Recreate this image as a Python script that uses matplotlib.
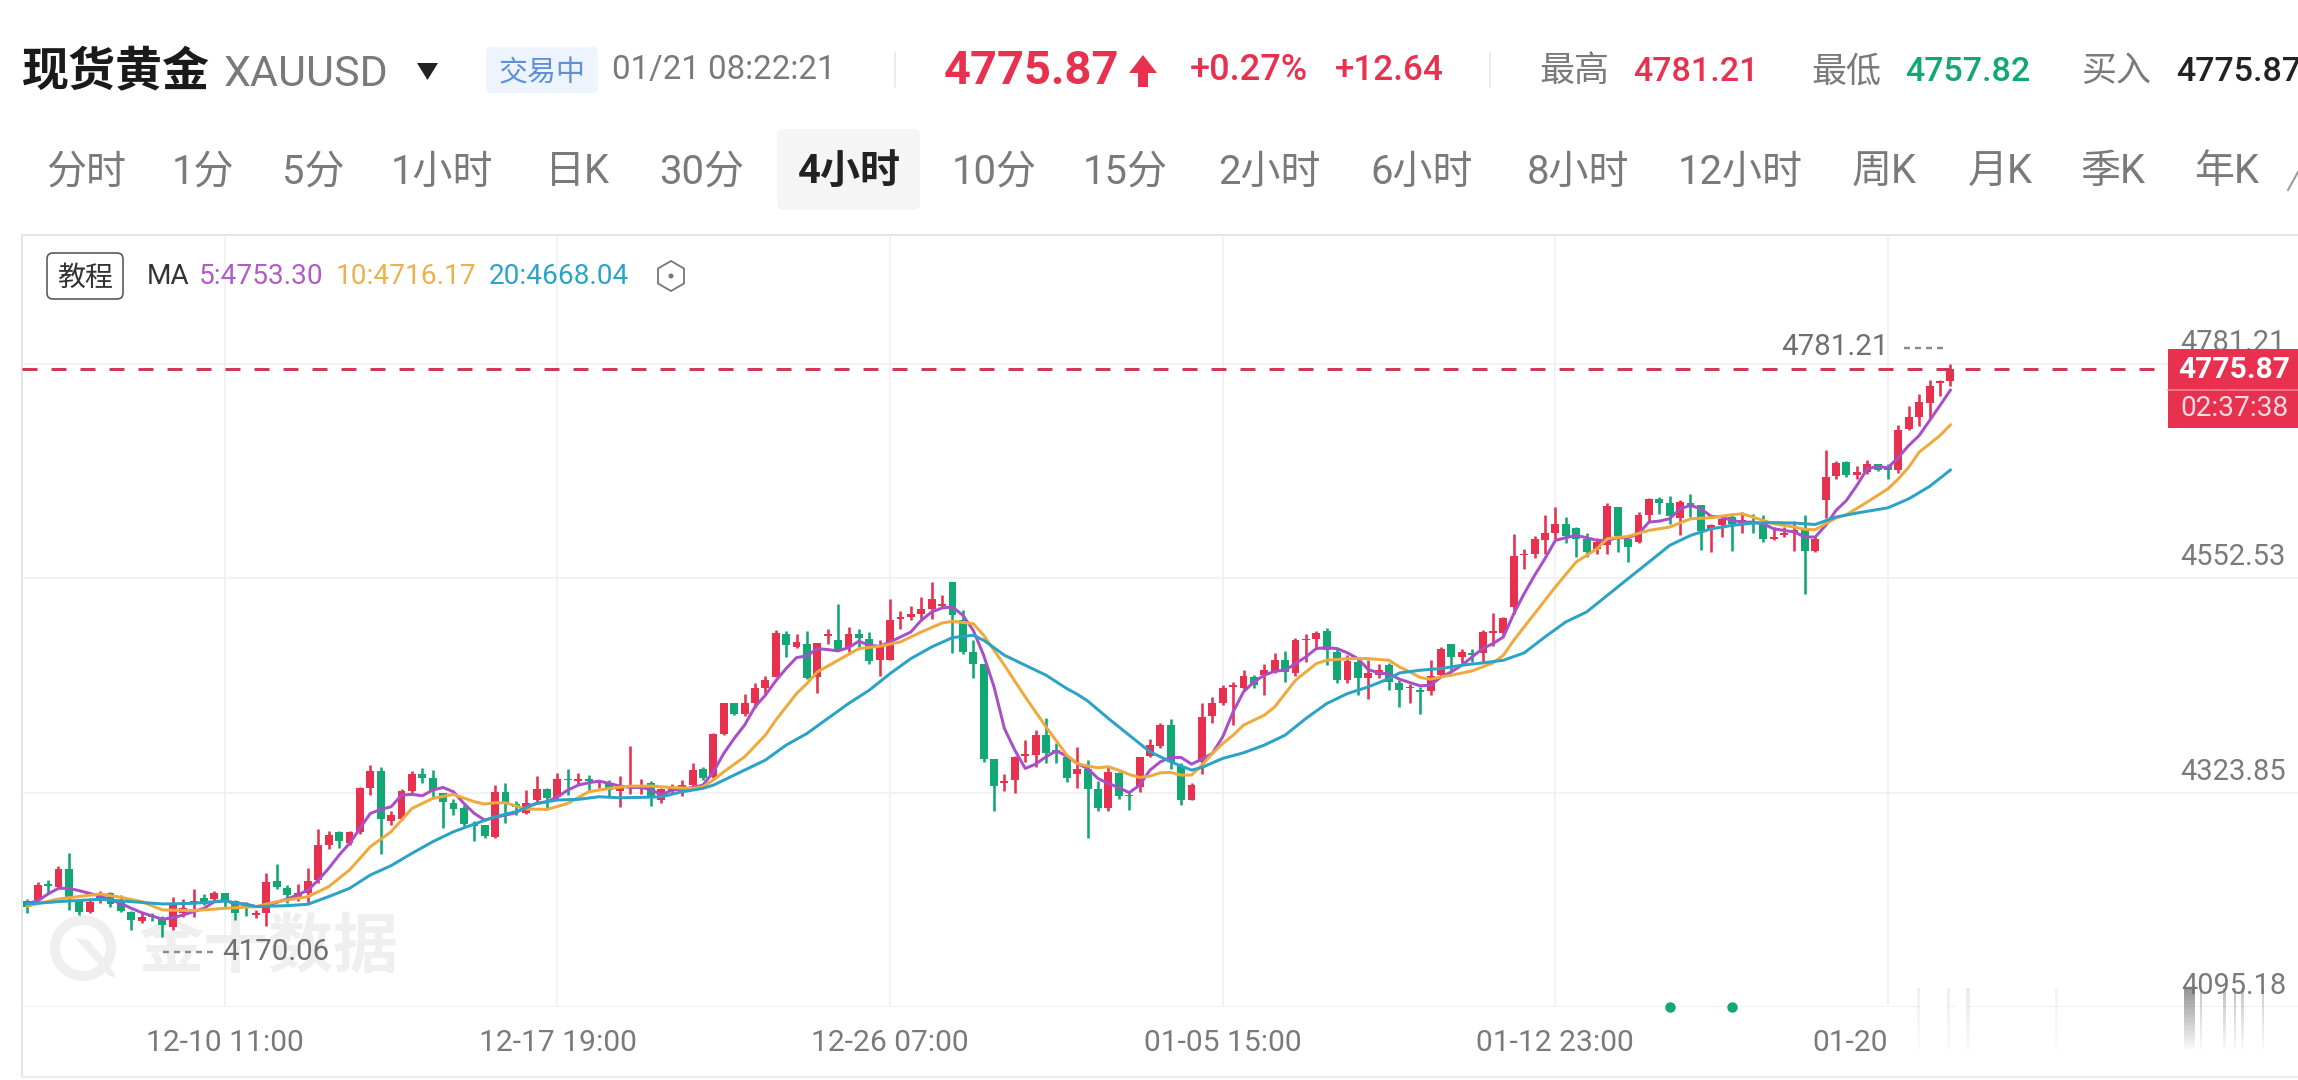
import numpy as np
import matplotlib
matplotlib.use("Agg")
import matplotlib.pyplot as plt
from matplotlib.patches import Rectangle, FancyBboxPatch, Polygon, RegularPolygon, Circle, Wedge

# ---------- data ----------
candle_colour = ("GRGRGGRRGG" "GRGGRRRGRG" "GGRRGGRRRR" "GRRRGRRRGG" "GGGGGRGGRR" "GRGRGRGRRR"
                 "GRRRRGRRGR" "RRRGRGRRGR" "GGRRRRRRRG" "GGGGRRRRGG" "GRGGRGGRRR" "GGRRRRRRGR"
                 "RGRRRGGRGR" "RGGRGRRGRG" "RRRRRRRRGG" "GRRGGRRGGR" "GGRRGRGGRR" "RGRRRGRRGG" "RRRRRR")
high = [4210,4229,4231,4246,4259,4209,4211,4219,4218,4215,
        4198,4195,4195,4192,4213,4210,4221,4216,4219,4217,
        4209,4207,4199,4238,4248,4225,4226,4244,4285,4283,
        4283,4283,4330,4353,4351,4304,4328,4347,4350,4348,
        4324,4317,4311,4294,4289,4332,4334,4315,4327,4342,
        4329,4345,4349,4345,4343,4337,4337,4342,4374,4338,
        4336,4329,4333,4337,4356,4351,4388,4419,4420,4429,
        4441,4448,4497,4496,4493,4496,4484,4499,4525,4501,
        4499,4495,4487,4531,4518,4523,4533,4549,4535,4549,
        4519,4487,4461,4360,4344,4363,4380,4391,4404,4377,
        4364,4373,4359,4336,4352,4346,4323,4362,4381,4398,
        4402,4356,4334,4420,4426,4439,4442,4455,4449,4461,
        4473,4475,4489,4493,4496,4500,4478,4471,4466,4465,
        4461,4462,4444,4440,4437,4465,4479,4483,4477,4477,
        4497,4516,4511,4600,4584,4598,4620,4629,4618,4607,
        4601,4596,4633,4629,4595,4623,4638,4639,4640,4636,
        4642,4631,4611,4620,4621,4623,4621,4620,4607,4607,
        4614,4620,4597,4689,4678,4678,4672,4679,4675,4675,
        4716,4736,4749,4764,4764,4781.21]
body_top = [4208,4225,4226,4242,4242,4208,4207,4215,4217,4208,
            4197,4191,4192,4190,4204,4201,4208,4211,4217,4217,
            4208,4204,4195,4229,4230,4222,4217,4230,4268,4279,
            4282,4282,4329,4347,4347,4300,4326,4344,4344,4339,
            4323,4313,4308,4290,4289,4325,4325,4312,4313,4328,
            4328,4338,4338,4338,4338,4336,4333,4331,4332,4332,
            4334,4328,4329,4332,4348,4349,4386,4419,4419,4419,
            4435,4444,4494,4493,4485,4483,4484,4493,4487,4493,
            4493,4488,4479,4508,4511,4515,4520,4530,4525,4549,
            4508,4474,4461,4360,4336,4362,4365,4385,4385,4369,
            4362,4349,4349,4328,4346,4345,4321,4362,4375,4396,
            4396,4352,4332,4405,4420,4436,4439,4448,4447,4455,
            4465,4465,4487,4488,4494,4496,4474,4464,4463,4451,
            4455,4460,4441,4437,4433,4448,4477,4482,4474,4473,
            4495,4496,4510,4576,4579,4594,4601,4610,4610,4606,
            4594,4591,4630,4629,4594,4620,4637,4637,4633,4634,
            4633,4631,4609,4616,4618,4615,4613,4612,4597,4601,
            4604,4604,4594,4661,4676,4677,4666,4675,4675,4672,
            4711,4725,4741,4758,4763,4775.87]
body_bot = [4202,4209,4224,4223,4213,4197,4197,4210,4205,4198,
            4188,4187,4191,4183,4181,4195,4205,4205,4210,4208,
            4195,4201,4193,4195,4223,4215,4210,4217,4231,4268,
            4272,4270,4282,4329,4296,4294,4296,4326,4339,4327,
            4314,4306,4290,4288,4278,4277,4312,4309,4302,4316,
            4318,4319,4337,4336,4336,4334,4327,4326,4329,4329,
            4318,4316,4327,4329,4332,4339,4341,4386,4408,4408,
            4419,4435,4447,4481,4479,4446,4447,4491,4476,4479,
            4489,4464,4465,4465,4509,4511,4514,4520,4523,4513,
            4474,4461,4360,4331,4334,4337,4363,4364,4366,4366,
            4339,4344,4328,4307,4307,4320,4320,4330,4363,4374,
            4357,4316,4316,4357,4406,4420,4437,4435,4439,4449,
            4454,4453,4452,4487,4488,4476,4444,4444,4446,4446,
            4449,4442,4433,4435,4431,4432,4449,4469,4469,4471,
            4473,4494,4494,4522,4577,4578,4593,4601,4598,4594,
            4581,4584,4588,4598,4586,4591,4620,4633,4619,4617,
            4629,4603,4605,4609,4611,4611,4611,4594,4595,4599,
            4602,4582,4582,4636,4662,4663,4663,4666,4668,4668,
            4668,4712,4725,4740,4761,4763]
low = [4196,4208,4216,4221,4199,4193,4195,4206,4202,4197,
       4177,4185,4187,4170.06,4177,4191,4191,4204,4209,4202,
       4188,4192,4190,4182,4221,4206,4208,4206,4227,4264,
       4265,4268,4280,4321,4258,4289,4295,4324,4334,4318,
       4286,4300,4288,4272,4276,4275,4292,4300,4301,4314,
       4307,4317,4321,4333,4327,4329,4320,4309,4322,4322,
       4310,4313,4323,4320,4330,4337,4339,4385,4407,4406,
       4414,4429,4447,4469,4478,4445,4430,4483,4475,4474,
       4479,4461,4448,4465,4498,4508,4507,4509,4522,4473,
       4472,4446,4357,4304,4326,4324,4357,4351,4356,4355,
       4335,4329,4275,4304,4304,4317,4305,4325,4362,4372,
       4349,4311,4316,4344,4398,4417,4396,4433,4435,4428,
       4452,4442,4448,4463,4478,4460,4441,4441,4428,4424,
       4446,4433,4415,4420,4408,4428,4447,4453,4462,4463,
       4463,4480,4492,4514,4563,4574,4578,4594,4590,4575,
       4575,4578,4578,4581,4570,4590,4614,4621,4610,4599,
       4618,4583,4581,4597,4582,4601,4601,4591,4593,4597,
       4582,4536,4581,4617,4658,4661,4659,4664,4667,4658,
       4665,4711,4715,4723,4747,4757.82]
ma5 = [4205.8,4208.3,4215.8,4221.8,4221.8,4219.3,4216.5,4213.6,4209.4,4205.8,
       4200.5,4195.9,4192.3,4188.8,4190.5,4193.4,4197,4200.5,4207.6,4208.7,
       4205.8,4205.1,4202.3,4203,4206.9,4210.4,4214.7,4220,4230.7,4243.1,
       4257.3,4269.8,4285.7,4301.7,4306,4308.8,4321.3,4322,4320.6,4326.6,
       4329.4,4324.8,4312.4,4301.7,4294.6,4297.5,4300,4302.4,4308.8,4312.4,
       4314.2,4319.5,4326.6,4331.9,4334.4,4336.2,4333.7,4330.9,4329.4,4329.4,
       4327.3,4321.3,4326.6,4327.5,4329.4,4331.9,4346.1,4365.7,4381.7,4395.9,
       4415.4,4427.8,4443.1,4456.3,4468,4469.8,4477.6,4476.5,4475.1,4478.6,
       4485.4,4481.1,4480,4484.7,4490,4495.3,4507.8,4516.6,4520.9,4522,
       4513.1,4497.1,4470.5,4436.7,4392.3,4369.2,4349.7,4354.3,4362.1,4368.5,
       4362.9,4355,4349.7,4339,4333.7,4329.4,4323.8,4331.9,4347.9,4356.8,
       4361.4,4361.4,4354.3,4359.6,4365.7,4383.4,4410.1,4431.4,4442,4449.2,
       4453.4,4454.5,4461.6,4468.7,4477.6,4478.6,4477.6,4473,4466.9,4455.2,
       4451.6,4450.5,4444.9,4441.3,4437.8,4438.5,4447.4,4452.7,4459.8,4468.7,
       4477.6,4482.9,4490,4514.9,4536.2,4555.7,4573.5,4593,4595.9,4598.3,
       4595.9,4593,4593,4595.9,4595.9,4600.1,4612.5,4613.6,4616.1,4626.8,
       4630.3,4626.8,4618.6,4617.9,4614.3,4612.5,4612.5,4610.8,4605.4,4603.6,
       4601.9,4596.6,4596.6,4609,4625,4635.6,4651.6,4669.4,4671.9,4670.5,
       4681.8,4694.3,4704.9,4720.9,4736.9,4753.3]
ma10_idx = [0,3,7,9,11,13,16,19,22,24,27,29,31,33,35,37,39,41,43,44,45,46,48,50,52,54,56,58,60,62,64,
            65,66,67,69,71,72,73,74,75,76,78,80,82,84,86,88,89,91,92,93,94,96,98,100,101,
            102,103,104,105,106,107,108,109,110,111,112,113,114,115,116,117,119,120,121,122,123,124,125,127,129,
            131,132,133,134,135,136,137,139,141,142,143,145,147,149,151,152,154,156,158,160,162,164,165,167,168,
            170,171,172,173,174,175,177,179,180,181,182,183,184,185]
ma10 = [4203,4210.4,4215.8,4212.2,4207.6,4198.7,4198,4200.5,4202.3,4207.6,4212.9,4223.6,4241.4,4266.2,4282.2,4307,4317.7,4322,4314.2,4311.7,4313.1,
        4313.1,4306.4,4306,4312.4,4324.8,4328.4,4330.9,4330.9,4329.4,4328.4,
        4330.2,4337.3,4346.1,4362.1,4385.2,4401.2,4415.4,4429.6,4440.3,4452.7,4465.1,4477.6,4480,4484.7,4495.3,4504.9,4506.7,4504.2,4491.8,4475.8,4459.8,4426,4394.1,4363.9,4355,
        4352.2,4350.4,4351.5,4347.9,4343.3,4340.1,4341.5,4345.1,4345.4,4342.6,4342.6,4353.3,4365.7,4376.3,4385.2,4395.9,4406.5,4415.4,4429.6,4443.8,4452.7,4461.6,4465.1,4466.9,4466.9,
        4465.1,4458,4452.7,4446.7,4444.9,4447.4,4449.2,4453.8,4462.3,4470.5,4486.5,4514.9,4543.3,4569.9,4584.1,4594.8,4597.3,4603.7,4607.2,4616.1,4617.2,4620.4,4621.4,4614.3,4610.8,
        4607.2,4604.8,4604.4,4610.8,4616.8,4620.4,4633.9,4648.1,4658.7,4671.2,4687.2,4696,4704.9,4716.17]
ma20_idx = [0,3,7,10,13,16,19,22,25,27,29,31,33,35,37,39,41,43,45,47,49,51,53,55,57,59,61,63,65,66,
            69,71,73,75,77,79,81,83,85,87,89,91,92,94,96,98,100,101,102,104,106,108,110,112,113,115,117,119,121,123,125,127,129,
            131,132,134,136,138,140,142,144,146,148,150,152,154,156,158,160,162,164,166,168,170,172,174,176,179,181,183,185]
ma20 = [4205.1,4207.6,4210.1,4207.6,4205.1,4205.8,4208.3,4202.3,4203.3,4204.8,4213,4221.8,4236,4246,4259.1,4271.5,4282.2,4290.4,4298.2,4303.5,4312.4,4316,4316.7,4319.5,4318.4,4318.8,4319.5,4324.8,4328.4,4331.9,
        4347.9,4358.6,4374.6,4387,4403,4418.9,4433.2,4450.9,4466.9,4479.3,4489.3,4491.8,4486.5,4470.5,4459.8,4449.2,4434.9,4428.9,4421.8,4403,4385.2,4367.5,4356.8,4347.9,4350.8,4360.4,4366.4,4374.6,4385.2,4403,4418.9,4429.6,4436.7,
        4445.6,4451.6,4454.5,4456.3,4459.8,4462.3,4465.1,4473,4490,4506,4516.6,4534.4,4552.2,4569.9,4587.7,4598.3,4605.4,4609,4611.5,4612,4611.5,4610,4617.9,4622.2,4627.8,4637.4,4650.6,4668.04]
price_ticks = [4095.18, 4323.85, 4552.53, 4781.21]
price_labels = ["4095.18", "4323.85", "4552.53", "4781.21"]
date_ticks = [19, 51, 83, 115, 147, 179]
date_labels = ["12-10 11:00", "12-17 19:00", "12-26 07:00", "01-05 15:00", "01-12 23:00", "01-20"]
last_price = 4775.87
signal_idx = [158, 164]

tabs = ["分时","1分","5分","1小时","日K","30分","4小时","10分","15分","2小时","6小时","8小时","12小时","周K","月K","季K","年K"]
tab_centres = [86,203,313,442,577,702,849,994,1125,1269,1422,1578,1740,1884,2000,2113,2227]

# ---------- style ----------
RED, GREEN = "#e8304f", "#12a875"
GREY, DARK = "#7a7a7a", "#222222"
GRID = "#efefef"
LATIN = ["Roboto", "Noto Sans CJK SC", "DejaVu Sans"]
plt.rcParams["font.family"] = LATIN
W, H, DPI = 2298, 1080, 100
PT = 72 / DPI  # points per pixel

fig = plt.figure(figsize=(W / DPI, H / DPI), dpi=DPI, facecolor="white")

def pixel_axes(z):
    a = fig.add_axes([0, 0, 1, 1], zorder=z)
    a.set_xlim(0, W); a.set_ylim(H, 0); a.axis("off"); a.patch.set_visible(False)
    return a

back = pixel_axes(0)
front = pixel_axes(2)

def T(a, x, y, s, px, color=GREY, ha="left", weight="normal", **kw):
    return a.text(x, y, s, fontsize=px * PT, color=color, ha=ha, va="center", fontweight=weight, **kw)

# ---------- chart axes ----------
L, R, TOP, BOT = 22, W, 235, 1007
ax = fig.add_axes([L / W, 1 - BOT / H, (R - L) / W, (BOT - TOP) / H], zorder=1)
ax.patch.set_visible(False)
x0, dx = 27.3, 10.395
ax.set_xlim((L - x0) / dx, (R - x0) / dx)
yscale = (1007 - 364) / (price_ticks[3] - price_ticks[0])
ax.set_ylim(price_ticks[0], price_ticks[3] + (364 - TOP) / yscale)
for s in ax.spines.values():
    s.set_visible(False)

ax.set_yticks(price_ticks); ax.set_yticklabels([])
ax.set_xticks(date_ticks); ax.set_xticklabels(date_labels)
ax.tick_params(axis="both", length=0)
ax.tick_params(axis="x", pad=22 * PT, labelsize=30 * PT, labelcolor=GREY)
ax.get_xticklabels()[-1].set_ha("right")
ax.grid(True, color=GRID, lw=1.5 * PT, zorder=0)
ax.set_axisbelow(True)

idx = np.arange(len(high))
colours = [RED if c == "R" else GREEN for c in candle_colour]
ax.vlines(idx, low, high, colors=colours, lw=2.6 * PT, zorder=2)
ax.bar(idx, np.array(body_top) - np.array(body_bot), bottom=body_bot, width=0.76, color=colours, lw=0, zorder=2.1)
ax.plot(idx, ma5, color="#a94fc9", lw=3 * PT, zorder=3, solid_joinstyle="round")
ax.plot(ma10_idx, ma10, color="#eeaa3c", lw=3 * PT, zorder=3.1, solid_joinstyle="round")
ax.plot(ma20_idx, ma20, color="#2aa3c6", lw=3 * PT, zorder=3.2, solid_joinstyle="round")
ax.hlines(last_price, ax.get_xlim()[0], (2168 - x0) / dx, colors="#cf3a58", lw=3 * PT,
          linestyles=(0, (15 / 3, 14 / 3)), zorder=4)
ax.scatter(signal_idx, [price_ticks[0]] * 2, s=(10.5 * PT) ** 2, color=GREEN, zorder=5, clip_on=False, lw=0)

ytrans = ax.get_yaxis_transform()
label_x = (2286 - L) / (R - L)
for p, lab in zip(price_ticks, price_labels):
    ax.annotate(lab, (label_x, p), xycoords=ytrans, xytext=(0, 21 * PT), textcoords="offset points",
                ha="right", va="center", fontsize=29 * PT, color=GREY, zorder=1)

# extreme labels
T(front, 1889, 347, "4781.21", 29.5, "#6f6f6f", ha="right")
front.plot([1904, 1945], [348, 348], color="#8a8a8a", lw=2.4 * PT, ls=(0, (6 / 2.4, 5 / 2.4)))
T(front, 222, 952, "4170.06", 29.5, "#6f6f6f")
front.plot([163, 215], [952, 952], color="#8a8a8a", lw=2.4 * PT, ls=(0, (6 / 2.4, 5 / 2.4)))

# frame
back.plot([L, W], [235, 235], color="#e4e4e4", lw=2 * PT)
back.plot([L, L], [235, 1077], color="#e4e4e4", lw=2 * PT)
back.plot([L, W], [1077, 1077], color="#ececec", lw=2 * PT)

# watermark
WM = "#efefef"
back.add_patch(Wedge((83, 948), 33, 0, 360, width=10, color=WM, lw=0))
back.add_patch(Polygon([[75, 938], [108, 975], [117, 978], [104, 958], [88, 940]], color=WM, lw=0))
T(back, 269, 949, "金十数据", 65, WM, ha="center", weight="bold")

# ---------- header ----------
T(front, 22, 73, "现货黄金", 47, "#1a1a1a", weight="bold")
T(front, 224, 74, "XAUUSD", 43, GREY)
front.add_patch(Polygon([[417, 63], [438, 63], [427.5, 80]], color="#222222", lw=0))
front.add_patch(FancyBboxPatch((490, 51), 104, 38, boxstyle="round,pad=4,rounding_size=5", fc="#eef4fd", ec="none"))
T(front, 542, 73, "交易中", 29, "#5f8fd6", ha="center")
T(front, 612, 70, "01/21 08:22:21", 33, GREY)
front.plot([895, 895], [53, 87], color="#e5e5e5", lw=1.5 * PT)
T(front, 944, 71, "4775.87", 47, RED, weight="bold")
front.add_patch(Polygon([[1129, 73], [1143, 55], [1157, 73], [1148, 73], [1148, 87], [1138, 87], [1138, 73]], color=RED, lw=0))
T(front, 1190, 71, "+0.27%", 36, RED, weight="medium")
T(front, 1335, 71, "+12.64", 35, RED, weight="medium")
front.plot([1490, 1490], [53, 87], color="#e5e5e5", lw=1.5 * PT)
T(front, 1539, 72, "最高", 35, GREY)
T(front, 1633, 72, "4781.21", 34, RED, weight="medium")
T(front, 1811, 72, "最低", 35, GREY)
T(front, 1905, 72, "4757.82", 34, GREEN, weight="medium")
T(front, 2081, 72, "买入", 35, GREY)
T(front, 2176, 72, "4775.87", 34, "#222222", weight="medium")

# ---------- period tabs ----------
front.add_patch(FancyBboxPatch((781, 133), 135, 73, boxstyle="round,pad=4,rounding_size=6", fc="#f5f5f5", ec="none"))
for name, cx in zip(tabs, tab_centres):
    sel = name == "4小时"
    T(front, cx, 172, name, 40, DARK if sel else GREY, ha="center", weight="bold" if sel else "normal")
front.plot([2288, 2298], [190, 172], color="#999999", lw=2 * PT)

# ---------- MA legend ----------
front.add_patch(FancyBboxPatch((51, 257), 68, 38, boxstyle="round,pad=4,rounding_size=6", fc="white", ec="#555555", lw=1.6 * PT))
T(front, 85, 278, "教程", 28, "#333333", ha="center")
T(front, 147, 276, "MA", 28, "#333333")
T(front, 199, 276, "5:4753.30", 28, "#b05cc8")
T(front, 336, 276, "10:4716.17", 28, "#eeb04a")
T(front, 489, 276, "20:4668.04", 28, "#2aa5c9")
front.add_patch(RegularPolygon((671, 276), 6, radius=15, fc="white", ec="#777777", lw=1.8 * PT))
front.add_patch(Circle((671, 276), 2.5, fc="#777777", ec="none"))

# ---------- price tag ----------
front.add_patch(Rectangle((2168, 349), W - 2168, 79, fc=RED, ec="none"))
front.plot([2168, W], [390, 390], color="#f58a9c", lw=1.5 * PT)
T(front, 2234, 370, "4775.87", 30, "white", ha="center", weight="bold")
T(front, 2234, 409, "02:37:38", 28, "#fbdde2", ha="center")

# ---------- faded streaks at the bottom edge ----------
def streak(x, w, strength):
    rgba = np.zeros((40, 1, 4))
    rgba[..., :3] = 0.45
    rgba[:, 0, 3] = np.linspace(strength, 0.03, 40)
    front.imshow(rgba, extent=(x, x + w, 1050, 988), aspect="auto", interpolation="bilinear", zorder=3)

front.add_patch(Rectangle((1920, 988), 28, 65, fc="white", ec="none", zorder=2.5))
front.add_patch(Rectangle((1957, 988), 9, 65, fc="white", ec="none", zorder=2.5))
for sx, sw, st in [(1917, 3, .1), (1947, 3, .12), (1966, 4, .15), (2184, 11, .75), (2200, 2, .4), (2223, 3, .45), (2234, 2, .45), (2241, 3, .4), (2262, 2, .35), (2055, 3, .08)]:
    streak(sx, sw, st)
front.set_xlim(0, W); front.set_ylim(H, 0)

fig.savefig("out.png", dpi=DPI)
